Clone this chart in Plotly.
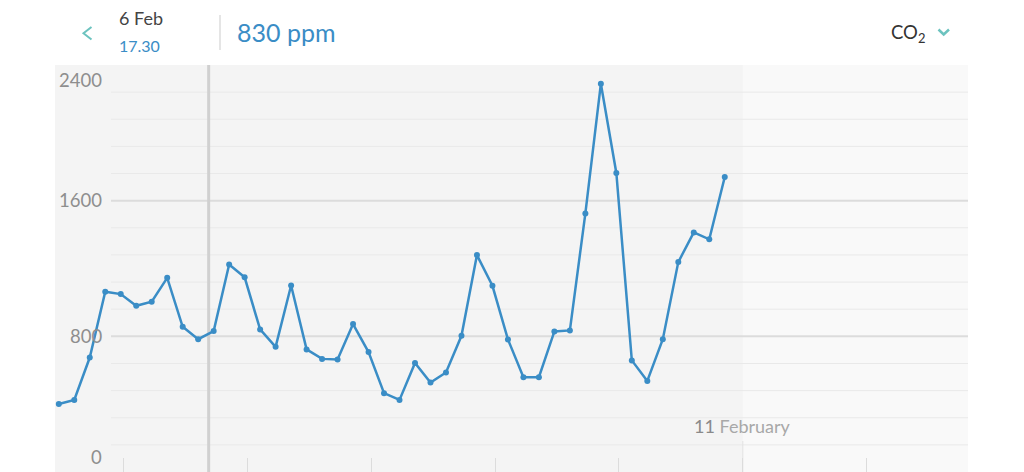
import pandas as pd
import plotly.graph_objects as go

W, H = 1024, 472

# ---- data ----
start_time = "2018-02-05 11:30"
step = "3h"
co2_ppm = [401, 425, 675, 1063, 1049, 980, 1004, 1145, 856, 783,
           831, 1224, 1148, 841, 738, 1100, 723, 667, 663, 872,
           707, 465, 425, 643, 528, 587, 803, 1279, 1098, 782,
           559, 559, 829, 835, 1525, 2289, 1763, 658, 537, 783,
           1238, 1413, 1372, 1740]
times = pd.date_range(start=start_time, periods=len(co2_ppm), freq=step)

y_tick_vals = [0, 800, 1600, 2400]
y_tick_text = ["0", "800", "1600", "2400"]
y_minor_step = 160
x_range = ["2018-02-05 10:46", "2018-02-12 19:37"]
day_ticks = pd.date_range("2018-02-06", "2018-02-12", freq="1D")
cursor_time = "2018-02-06 16:32"
boundary_day = "2018-02-11"
boundary_label = "<span style='color:#8a8a8a'>11</span> February"
header_date = "6 Feb"
header_time = "17.30"
header_value = "830 ppm"
metric = "CO<sub>2</sub>"

BLUE = "#3a8dc6"
TEAL = "#6cc3bf"
FONT = "Lato"


def px(x):
    return x / W


def py(y):
    return 1 - y / H


fig = go.Figure()
fig.add_trace(go.Scatter(
    x=times, y=co2_ppm, mode="lines+markers",
    line=dict(color=BLUE, width=2.5),
    marker=dict(color=BLUE, size=6),
    hoverinfo="skip", showlegend=False,
))

shapes = []
# panel background
shapes.append(dict(type="rect", xref="paper", yref="paper",
                   x0=px(55), x1=px(968), y0=0, y1=py(65),
                   fillcolor="#f4f4f4", line_width=0, layer="below"))
# lighter future region
shapes.append(dict(type="rect", xref="x", yref="paper",
                   x0=boundary_day, x1=x_range[1], y0=0, y1=py(65),
                   fillcolor="#f9f9f9", line_width=0, layer="below"))
# grid lines
for v in range(y_minor_step, 2400, y_minor_step):
    major = v % 800 == 0
    shapes.append(dict(type="line", xref="paper", yref="y",
                       x0=px(111), x1=px(968), y0=v, y1=v,
                       line=dict(color="#dcdcdc" if major else "#e9e9e9",
                                 width=2 if major else 1),
                       layer="below"))
# boundary tick
shapes.append(dict(type="line", xref="x", yref="paper",
                   x0=boundary_day, x1=boundary_day, y0=0, y1=py(441),
                   line=dict(color="#e2e2e2", width=1), layer="below"))
# cursor
shapes.append(dict(type="line", xref="x", yref="paper",
                   x0=cursor_time, x1=cursor_time, y0=0, y1=py(65),
                   line=dict(color="#d0d0d0", width=3), layer="below"))
# header divider
shapes.append(dict(type="line", xref="paper", yref="paper",
                   x0=px(220), x1=px(220), y0=py(15), y1=py(50),
                   line=dict(color="#dddddd", width=1.5)))
# back chevron
shapes.append(dict(type="path", xref="paper", yref="paper",
                   path=f"M {px(91.5)} {py(27)} L {px(83.5)} {py(33.3)} L {px(91.5)} {py(39.5)}",
                   line=dict(color=TEAL, width=2)))
# dropdown chevron
shapes.append(dict(type="path", xref="paper", yref="paper",
                   path=f"M {px(938.5)} {py(29.5)} L {px(943.7)} {py(34.5)} L {px(949)} {py(29.5)}",
                   line=dict(color=TEAL, width=2.5)))

annotations = []
shift = {0: 15, 800: 0, 1600: 1, 2400: -15}
for v, t in zip(y_tick_vals, y_tick_text):
    annotations.append(dict(text=t, xref="paper", yref="y", x=px(104), y=v,
                            xanchor="right", yanchor="middle", yshift=shift[v],
                            showarrow=False,
                            font=dict(family=FONT, size=18.5, color="#8e8e8e")))
annotations.append(dict(text=boundary_label, xref="x", yref="paper",
                        x=boundary_day, y=py(426), xanchor="center", yanchor="middle",
                        showarrow=False, font=dict(family=FONT, size=18, color="#a8a8a8")))
annotations.append(dict(text=header_date, xref="paper", yref="paper",
                        x=px(117), y=py(18), xanchor="left", yanchor="middle",
                        showarrow=False, font=dict(family=FONT, size=18, color="#444444")))
annotations.append(dict(text=header_time, xref="paper", yref="paper",
                        x=px(117), y=py(46), xanchor="left", yanchor="middle",
                        showarrow=False, font=dict(family=FONT, size=16, color=BLUE)))
annotations.append(dict(text=header_value, xref="paper", yref="paper",
                        x=px(235), y=py(32), xanchor="left", yanchor="middle",
                        showarrow=False, font=dict(family=FONT, size=25, color=BLUE)))
annotations.append(dict(text=metric, xref="paper", yref="paper",
                        x=px(889), y=py(33), xanchor="left", yanchor="middle",
                        showarrow=False, font=dict(family=FONT, size=18.5, color="#333333")))

fig.update_layout(
    width=W, height=H,
    margin=dict(l=0, r=0, t=0, b=0),
    paper_bgcolor="white", plot_bgcolor="rgba(0,0,0,0)",
    shapes=shapes, annotations=annotations,
    xaxis=dict(domain=[px(55), px(968)], range=x_range, type="date",
               showgrid=False, zeroline=False, showline=False,
               tickvals=day_ticks, ticks="inside", ticklen=14,
               tickcolor="#dcdcdc", tickwidth=1, showticklabels=False,
               fixedrange=True),
    yaxis=dict(domain=[0, py(65)], range=[0, 2400],
               showgrid=False, zeroline=False, showline=False,
               showticklabels=False, ticks="", fixedrange=True),
    font=dict(family=FONT),
)

fig.write_html("out.html", config={"displayModeBar": False},
               post_script="document.body.style.margin='0';document.body.style.overflow='hidden';")
